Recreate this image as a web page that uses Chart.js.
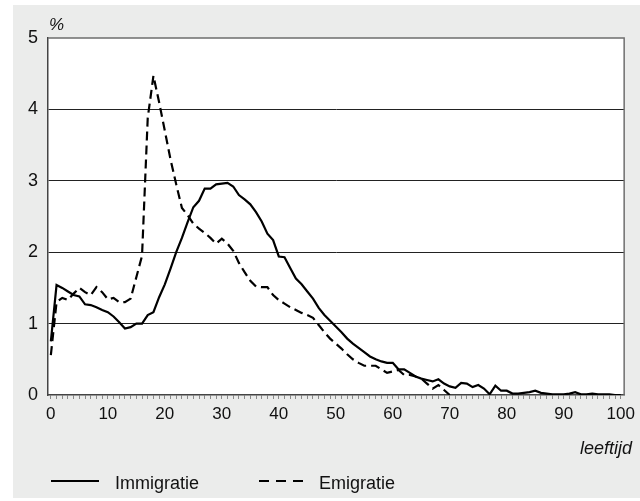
<!DOCTYPE html>
<html>
<head>
<meta charset="utf-8">
<script src="https://cdn.jsdelivr.net/npm/chart.js@4"></script>
<style>
  html, body { margin: 0; padding: 0; background: #fff; }
  #wrap { width: 640px; height: 501px; }
</style>
</head>
<body>
<div id="wrap"><canvas id="migChart" width="640" height="501"></canvas></div>
<script>
// leeftijd (age) 0..100
const ages = [
  0, 1, 2, 3, 4, 5, 6, 7, 8, 9, 10, 11, 12, 13, 14, 15, 16, 17, 18, 19,
  20, 21, 22, 23, 24, 25, 26, 27, 28, 29, 30, 31, 32, 33, 34, 35, 36, 37, 38, 39,
  40, 41, 42, 43, 44, 45, 46, 47, 48, 49, 50, 51, 52, 53, 54, 55, 56, 57, 58, 59,
  60, 61, 62, 63, 64, 65, 66, 67, 68, 69, 70, 71, 72, 73, 74, 75, 76, 77, 78, 79,
  80, 81, 82, 83, 84, 85, 86, 87, 88, 89, 90, 91, 92, 93, 94, 95, 96, 97, 98, 99, 100
];

// % per age
const immigratie = [
  0.75, 1.54, 1.50, 1.45, 1.40, 1.38, 1.27, 1.26, 1.23, 1.19,
  1.16, 1.10, 1.02, 0.93, 0.95, 1.00, 1.00, 1.12, 1.16, 1.37,
  1.55, 1.77, 2.00, 2.20, 2.42, 2.63, 2.72, 2.89, 2.89, 2.95,
  2.96, 2.97, 2.92, 2.80, 2.74, 2.67, 2.56, 2.43, 2.26, 2.17,
  1.94, 1.93, 1.78, 1.63, 1.55, 1.45, 1.35, 1.22, 1.12, 1.04,
  0.96, 0.88, 0.79, 0.72, 0.66, 0.60, 0.54, 0.50, 0.47, 0.45,
  0.45, 0.36, 0.36, 0.31, 0.26, 0.23, 0.21, 0.19, 0.22, 0.16,
  0.12, 0.10, 0.17, 0.16, 0.11, 0.14, 0.09, 0.01, 0.13, 0.06,
  0.06, 0.02, 0.02, 0.03, 0.04, 0.06, 0.03, 0.02, 0.01, 0.01,
  0.01, 0.02, 0.04, 0.01, 0.01, 0.02, 0.01, 0.01, 0.01, 0.00, 0.00
];

const emigratie = [
  0.56, 1.30, 1.36, 1.33, 1.42, 1.50, 1.44, 1.40, 1.51, 1.44,
  1.34, 1.36, 1.30, 1.30, 1.35, 1.65, 1.95, 3.88, 4.47, 4.10,
  3.70, 3.30, 2.95, 2.62, 2.52, 2.40, 2.33, 2.27, 2.20, 2.12,
  2.19, 2.12, 2.02, 1.85, 1.72, 1.60, 1.52, 1.51, 1.51, 1.40,
  1.33, 1.28, 1.23, 1.19, 1.15, 1.12, 1.08, 0.98, 0.88, 0.79,
  0.72, 0.65, 0.57, 0.50, 0.45, 0.41, 0.41, 0.41, 0.36, 0.31,
  0.33, 0.35, 0.28, 0.28, 0.26, 0.23, 0.16, 0.09, 0.14, 0.07,
  0.00, null, null, null, null, null, null, null, null, null,
  null, null, null, null, null, null, null, null, null, null,
  null, null, null, null, null, null, null, null, null, null, null
];

const yTicks = [0, 1, 2, 3, 4, 5];
const xLabelTicks = [0, 10, 20, 30, 40, 50, 60, 70, 80, 90, 100];

const FONT = '"Liberation Sans", Arial, Helvetica, sans-serif';

const toPoints = (vals) => ages.map((a, i) => ({ x: a, y: vals[i] }));

// background panel, frame, extra texts and legend
const decor = {
  id: 'decor',
  beforeDraw(chart) {
    const { ctx, chartArea: a } = chart;
    ctx.save();
    ctx.fillStyle = '#fff';
    ctx.fillRect(0, 0, chart.width, chart.height);
    ctx.fillStyle = '#ebeceb';
    ctx.fillRect(13, 5, chart.width - 13, 493);
    ctx.fillStyle = '#fff';
    ctx.fillRect(a.left, a.top, a.right - a.left, a.bottom - a.top);
    ctx.restore();
  },
  afterDraw(chart) {
    const { ctx, chartArea: a } = chart;
    ctx.save();
    // top + right frame
    ctx.strokeStyle = '#6e6e6e';
    ctx.lineWidth = 1.5;
    ctx.beginPath();
    ctx.moveTo(a.left, a.top);
    ctx.lineTo(a.right, a.top);
    ctx.lineTo(a.right, a.bottom);
    ctx.stroke();

    ctx.fillStyle = '#111';
    ctx.font = 'italic 17px ' + FONT;
    ctx.textBaseline = 'alphabetic';
    ctx.textAlign = 'left';
    ctx.fillText('%', 49, 30);

    ctx.font = 'italic 18px ' + FONT;
    ctx.textAlign = 'right';
    ctx.fillText('leeftijd', 632, 454);

    // legend
    ctx.strokeStyle = '#000';
    ctx.lineWidth = 2;
    ctx.beginPath();
    ctx.moveTo(51, 481);
    ctx.lineTo(99, 481);
    ctx.stroke();
    ctx.setLineDash([10, 7]);
    ctx.beginPath();
    ctx.moveTo(259, 481);
    ctx.lineTo(306, 481);
    ctx.stroke();
    ctx.setLineDash([]);

    ctx.font = '18px ' + FONT;
    ctx.textAlign = 'left';
    ctx.fillText('Immigratie', 115, 489);
    ctx.fillText('Emigratie', 319, 489);
    ctx.restore();
  }
};

new Chart(document.getElementById('migChart'), {
  type: 'line',
  data: {
    datasets: [
      {
        label: 'Immigratie',
        data: toPoints(immigratie),
        borderColor: '#000',
        borderWidth: 2.2,
        pointRadius: 0,
        tension: 0,
        fill: false
      },
      {
        label: 'Emigratie',
        data: toPoints(emigratie),
        borderColor: '#000',
        borderWidth: 2.2,
        borderDash: [9, 5],
        pointRadius: 0,
        tension: 0,
        fill: false,
        spanGaps: false
      }
    ]
  },
  options: {
    responsive: false,
    animation: false,
    devicePixelRatio: 1,
    layout: { padding: { top: 38, right: 14, bottom: 0, left: 0 } },
    plugins: {
      legend: { display: false },
      tooltip: { enabled: false }
    },
    scales: {
      x: {
        type: 'linear',
        min: -0.5,
        max: 100.6,
        afterBuildTicks: (scale) => {
          scale.ticks = ages.map(v => ({ value: v }));
        },
        afterFit: (scale) => { scale.height = 106; },
        border: { display: true, color: '#444', width: 1.5 },
        grid: {
          drawOnChartArea: false,
          drawTicks: true,
          tickLength: 4,
          color: '#8a8a8a',
          lineWidth: 1
        },
        ticks: {
          autoSkip: false,
          maxRotation: 0,
          padding: 5,
          color: '#111',
          font: { family: FONT, size: 17 },
          callback: (v) => xLabelTicks.includes(v) ? String(v) : ''
        }
      },
      y: {
        min: 0,
        max: 5,
        afterBuildTicks: (scale) => {
          scale.ticks = yTicks.map(v => ({ value: v }));
        },
        afterFit: (scale) => { scale.width = 48; },
        border: { display: true, color: '#444', width: 1.5 },
        grid: {
          drawTicks: false,
          color: (c) => (c.tick && (c.tick.value === 0 || c.tick.value === 5)) ? 'rgba(0,0,0,0)' : '#222',
          lineWidth: 1
        },
        ticks: {
          padding: 10,
          color: '#111',
          font: { family: FONT, size: 18 }
        }
      }
    }
  },
  plugins: [decor]
});
</script>
</body>
</html>
